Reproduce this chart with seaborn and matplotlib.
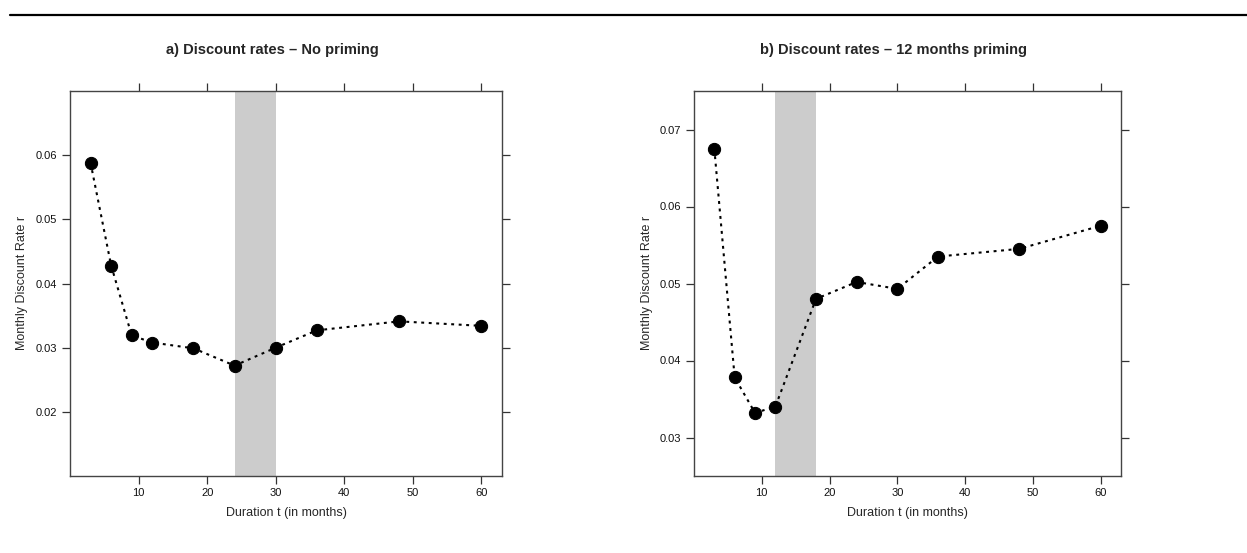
import matplotlib
matplotlib.use("Agg")
import matplotlib.pyplot as plt
import matplotlib.lines as mlines
import seaborn as sns

# durations in months
months = [3, 6, 9, 12, 18, 24, 30, 36, 48, 60]

# monthly discount rates
rate_no_priming = [0.0588, 0.0428, 0.0319, 0.0308, 0.0299, 0.0272, 0.0300, 0.0327, 0.0341, 0.0334]
rate_12m_priming = [0.0675, 0.0378, 0.0332, 0.0340, 0.0480, 0.0502, 0.0493, 0.0535, 0.0545, 0.0575]

titles = ["a) Discount rates \u2013 No priming", "b) Discount rates \u2013 12 months priming"]
shade_spans = [(24, 30), (12, 18)]
y_limits = [(0.01, 0.07), (0.025, 0.075)]
y_ticks = [[0.02, 0.03, 0.04, 0.05, 0.06], [0.03, 0.04, 0.05, 0.06, 0.07]]
x_ticks = [10, 20, 30, 40, 50, 60]

sns.set_style("white")
plt.rcParams["font.family"] = ["Liberation Sans", "DejaVu Sans"]

W, H = 1247, 553
fig = plt.figure(figsize=(W / 100, H / 100), dpi=100)

# axes boxes in pixel coords (left, top, right, bottom)
boxes = [(70, 91, 502, 476), (694, 91, 1121, 476)]
title_x = [272, 893]
ylabel_x = [22, 647]

for i, series in enumerate([rate_no_priming, rate_12m_priming]):
    l, t, r, b = boxes[i]
    ax = fig.add_axes([l / W, 1 - b / H, (r - l) / W, (b - t) / H])
    ax.axvspan(*shade_spans[i], color="#cccccc", lw=0, zorder=0)
    sns.lineplot(x=months, y=series, ax=ax, color="black", marker="o",
                 markersize=8.8, markeredgecolor="black", linewidth=1.5,
                 dashes=False, zorder=3)
    ax.lines[-1].set_linestyle((0, (1.4, 2.2)))
    ax.set_xlim(0, 63)
    ax.set_ylim(*y_limits[i])
    ax.set_xticks(x_ticks)
    ax.set_yticks(y_ticks[i])
    ax.set_yticklabels([f"{v:.2f}" for v in y_ticks[i]])
    ax.tick_params(axis="both", which="both", direction="out", length=6, width=0.9,
                   color="#333333", labelsize=8, labelcolor="#111111", pad=3,
                   top=True, right=True, bottom=True, left=True,
                   labeltop=False, labelright=False)
    for s in ax.spines.values():
        s.set_color("#444444")
        s.set_linewidth(1.0)
    ax.set_xlabel("Duration t (in months)", fontsize=9, labelpad=6)
    ax.set_ylabel("")
    fig.text(ylabel_x[i] / W, 1 - 283 / H, "Monthly Discount Rate r", rotation=90,
             ha="center", va="center", fontsize=9)
    fig.text(title_x[i] / W, 1 - 50 / H, titles[i], ha="center", va="center",
             fontsize=10.5, fontweight="bold")

# rule across the top
fig.add_artist(mlines.Line2D([10 / W, 1.0], [1 - 15 / H, 1 - 15 / H],
                             color="black", linewidth=1.6, transform=fig.transFigure))

fig.savefig("out.png", dpi=100)
